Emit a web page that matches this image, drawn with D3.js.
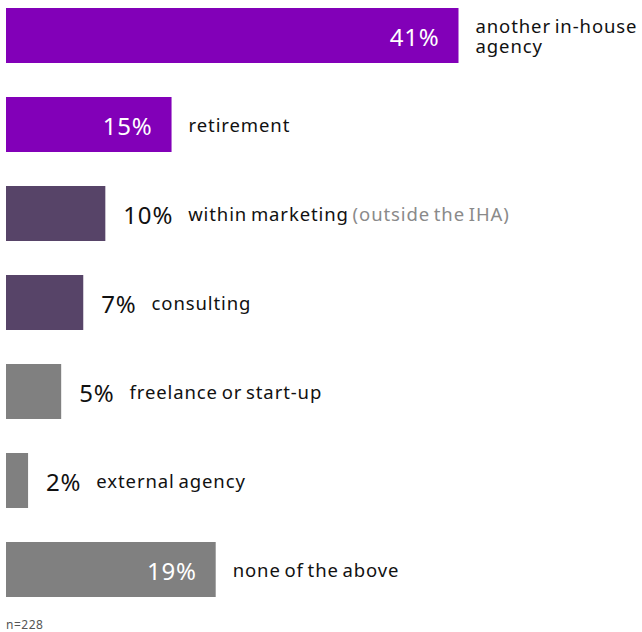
<!DOCTYPE html>
<html>
<head>
<meta charset="utf-8">
<script src="https://cdn.jsdelivr.net/npm/d3@7"></script>
<style>
  body { margin: 0; background: #fff; }
  svg { display: block; font-family: "Noto Sans", sans-serif; }
  .cat { font-size: 18.5px; fill: #111; letter-spacing: 0.9px; word-spacing: -2px; }
  .pct { font-size: 24px; letter-spacing: 0.8px; }
  .nota { font-size: 12px; fill: #555; letter-spacing: 0.5px; }
</style>
</head>
<body>
<svg id="grafico"></svg>
<script>
// dados
const categorias = ['another in-house\nagency', 'retirement', 'within marketing', 'consulting', 'freelance or start-up', 'external agency', 'none of the above'];
const complementos = ['', '', ' (outside the IHA)', '', '', '', ''];
const valores = [41, 15, 9, 7, 5, 2, 19];
const rotulos = ['41%', '15%', '10%', '7%', '5%', '2%', '19%'];
const grupos = ['a', 'a', 'b', 'b', 'c', 'c', 'c'];
const dentro = [true, true, false, false, false, false, true];
const amostra = 'n=228';

const largura = 642, altura = 632;
const svg = d3.select('#grafico').attr('width', largura).attr('height', altura);

const x = d3.scaleLinear().domain([0, 41]).range([6, 458.5]);
const y = d3.scaleBand().domain(d3.range(categorias.length)).range([8, 597]).paddingInner(0.382).paddingOuter(0);
const cor = d3.scaleOrdinal().domain(['a', 'b', 'c']).range(['#8200b8', '#574468', '#808080']);

const linhas = svg.selectAll('.linha')
    .data(valores)
    .enter().append('g')
    .classed('linha', true)
    .attr('transform', (d, i) => `translate(0, ${y(i)})`);

// barras
linhas.append('rect')
    .attr('x', x(0))
    .attr('y', 0)
    .attr('width', d => x(d) - x(0))
    .attr('height', y.bandwidth())
    .attr('fill', (d, i) => cor(grupos[i]));

// rótulos de porcentagem, dentro ou fora da barra
linhas.append('text')
    .classed('pct', true)
    .attr('y', y.bandwidth() / 2)
    .attr('dy', '0.44em')
    .attr('x', (d, i) => dentro[i] ? x(d) - 19 : x(d) + 18)
    .attr('text-anchor', (d, i) => dentro[i] ? 'end' : 'start')
    .attr('fill', (d, i) => dentro[i] ? '#fff' : '#111')
    .text((d, i) => rotulos[i]);

// rótulos de categoria
linhas.each(function(d, i) {
  const g = d3.select(this);
  let inicio;
  if (dentro[i]) {
    inicio = x(d) + 17;
  } else {
    const w = g.select('.pct').node().getComputedTextLength();
    inicio = x(d) + 18 + w + 15;
  }
  const partes = categorias[i].split('\n');
  const t = g.append('text')
      .classed('cat', true)
      .attr('x', inicio)
      .attr('y', y.bandwidth() / 2 - (partes.length - 1) * 10);
  partes.forEach((p, k) => {
    t.append('tspan').attr('x', inicio).attr('dy', k === 0 ? '0.42em' : '20px').text(p);
  });
  if (complementos[i]) {
    t.append('tspan').attr('fill', '#8a8a8a').text(complementos[i]);
  }
});

svg.append('text')
    .classed('nota', true)
    .attr('x', 6)
    .attr('y', 629)
    .text(amostra);
</script>
</body>
</html>
